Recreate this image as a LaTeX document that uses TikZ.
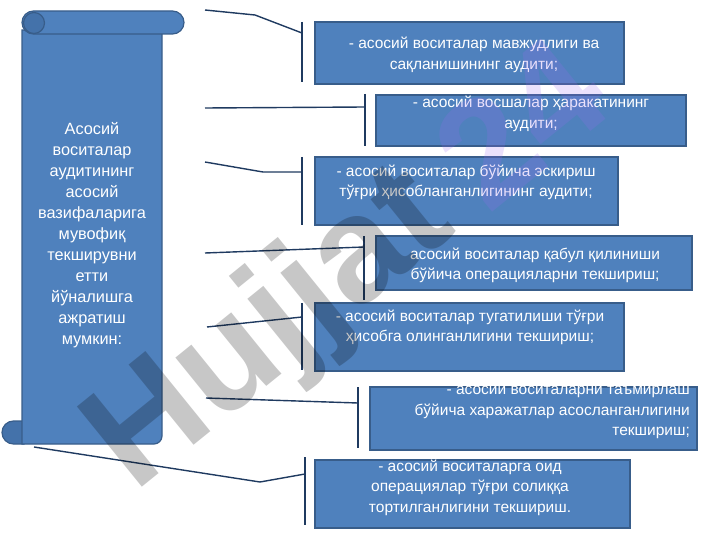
\documentclass[tikz,border=0pt]{standalone}
\usepackage{fontspec}
\setmainfont{Liberation Sans}
\definecolor{boxblue}{HTML}{4F81BD}
\definecolor{boxedge}{HTML}{385D8A}
\definecolor{curlblue}{HTML}{4472AA}
\definecolor{linenavy}{HTML}{1F3A60}
\definecolor{wmpurple}{HTML}{9A6AF0}
\begin{document}
\begin{tikzpicture}[x=1pt,y=-1pt,
  boxnode/.style={draw=boxedge,line width=1.2pt,fill=boxblue,inner sep=0pt},
  boxtext/.style={text=white,inner sep=0pt,align=center,font=\fontsize{15.5}{20.5}\selectfont},
  conn/.style={draw=linenavy,line width=1.4pt},
  scrollpart/.style={draw=boxedge,line width=1.2pt,fill=boxblue}]
\useasboundingbox (0,0) rectangle (720,540);

% scroll
\path[scrollpart,fill=curlblue] (24,421) -- (13.5,421) arc[start angle=270,end angle=90,radius=11.5] -- (24,444) -- cycle;
\path[scrollpart] (22,30) -- (162,30) -- (162,436) arc[start angle=0,end angle=90,radius=8] -- (22,444) -- cycle;
\path[scrollpart] (33.5,11) -- (172.5,11) arc[start angle=-90,end angle=90,radius=11.5] -- (33.5,34) arc[start angle=90,end angle=270,radius=11.5] -- cycle;
\node[draw=boxedge,line width=1.2pt,fill=curlblue,circle,minimum size=21pt,inner sep=0pt] (curl) at (34,23) {};
\node[text=white,inner sep=0pt,align=center,font=\fontsize{16.3}{21}\selectfont] (main) at (92,235)
 {Асосий\\воситалар\\аудитининг\\асосий\\вазифаларига\\мувофиқ\\текширувни\\етти\\йўналишга\\ажратиш\\мумкин:};

% boxes
\node[boxnode,minimum width=309pt,minimum height=62pt] (b1) at (469.5,53) {};
\node[boxnode,minimum width=310pt,minimum height=51pt] (b2) at (531,120.5) {};
\node[boxnode,minimum width=303pt,minimum height=68pt] (b3) at (466.5,191) {};
\node[boxnode,minimum width=316pt,minimum height=54pt] (b4) at (534,263) {};
\node[boxnode,minimum width=309pt,minimum height=68pt] (b5) at (469.5,337) {};
\node[boxnode,minimum width=327pt,minimum height=63pt] (b6) at (533.5,418.5) {};
\node[boxnode,minimum width=315pt,minimum height=68pt] (b7) at (472.5,494) {};

\node[boxtext] (t1) at (474,55) {- асосий воситалар мавжудлиги ва\\сақланишининг аудити;};
\node[boxtext] (t2) at (531,114) {- асосий восшалар ҳаракатининг\\аудити;};
\node[boxtext] (t3) at (466,182.5) {- асосий воситалар бўйича эскириш\\тўғри ҳисобланганлигининг аудити;};
\node[boxtext] (t4) at (535,265.5) {асосий воситалар қабул қилиниши\\бўйича операцияларни текшириш;};
\node[boxtext] (t5) at (470,327.5) {- асосий воситалар тугатилиши тўғри\\ҳисобга олинганлигини текшириш;};
\node[boxtext,align=right,anchor=east] (t6) at (690,411) {- асосий воситаларни таъмирлаш\\бўйича харажатлар асосланганлигини\\текшириш;};
\node[boxtext] (t7) at (470,487.5) {- асосий воситаларга оид\\операциялар тўғри солиққа\\тортилганлигини текшириш.};

% brackets
\coordinate (k1t) at (302,22); \coordinate (k1b) at (302,82);
\coordinate (k2t) at (365,94); \coordinate (k2b) at (365,146);
\coordinate (k3t) at (302,157); \coordinate (k3b) at (302,225);
\coordinate (k4t) at (364,236); \coordinate (k4b) at (364,300);
\coordinate (k5t) at (302,303); \coordinate (k5b) at (302,370);
\coordinate (k6t) at (358,387); \coordinate (k6b) at (358,448);
\coordinate (k7t) at (305,457); \coordinate (k7b) at (305,525);
\foreach \k in {1,...,7} {\draw[conn] (k\k t) -- (k\k b);}

% connectors
\coordinate (s1) at (205,10); \coordinate (e1) at (302,33);
\coordinate (s2) at (205,108); \coordinate (e2) at (365,107);
\coordinate (s3) at (205,162); \coordinate (e3) at (302,172);
\coordinate (s4) at (205,253); \coordinate (e4) at (364,247);
\coordinate (s5) at (207,327); \coordinate (e5) at (302,317);
\coordinate (s6) at (206,398); \coordinate (e6) at (358,403);
\coordinate (s7) at (34,447); \coordinate (e7) at (305,474);
\draw[conn] (s1) -- (255,15) -- (e1);
\draw[conn] (s2) -- (e2);
\draw[conn] (s3) -- (263,172) -- (e3);
\draw[conn] (s4) -- (e4);
\draw[conn] (s5) -- (e5);
\draw[conn] (s6) -- (e6);
\draw[conn] (s7) -- (260,482) -- (e7);

% watermark
\node[rotate=39,text=black,text opacity=0.22,inner sep=0pt,font=\fontsize{150}{150}\selectfont\bfseries] (wm) at (272,332) {Hujjat};
\node[rotate=39,text=wmpurple,text opacity=0.2,inner sep=0pt,font=\fontsize{150}{150}\selectfont\bfseries] (wm2) at (520,122) {24};
\end{tikzpicture}
\end{document}
